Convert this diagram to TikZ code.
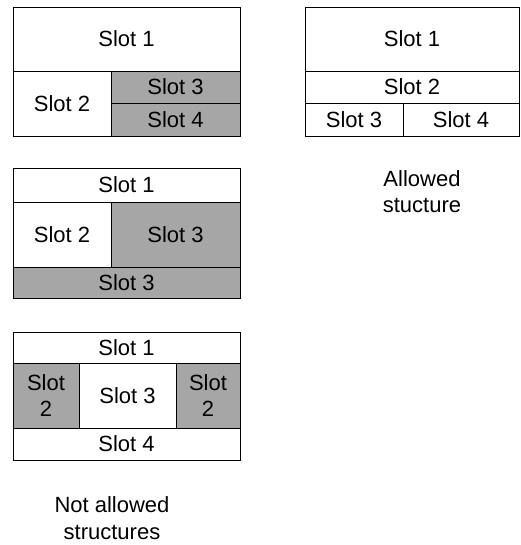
\documentclass[tikz,border=0pt]{standalone}
\usepackage{fontspec}
\setmainfont{Liberation Sans}
\definecolor{slotgray}{HTML}{A6A6A6}

\begin{document}
\begin{tikzpicture}[x=1pt, y=-1pt,
	slot/.style={draw, line width=0.8pt, inner sep=0pt, outer sep=0pt, align=center,
		font=\fontsize{22}{26.5}\selectfont},
	taken/.style={slot, fill=slotgray},
	caption/.style={align=center, font=\fontsize{22}{26.5}\selectfont}]
\useasboundingbox (0,0) rectangle (520,545);
\node (p-1) [slot, minimum width=227pt, minimum height=64pt] at (126.5,39) {Slot 1};
\node (p-2) [slot, minimum width=98pt, minimum height=65pt] at (62,103.5) {Slot 2};
\node (p-3) [taken, minimum width=129pt, minimum height=32pt] at (175.5,87) {Slot 3};
\node (p-4) [taken, minimum width=129pt, minimum height=33pt] at (175.5,119.5) {Slot 4};

\node (a-1) [slot, minimum width=214pt, minimum height=64pt] at (412,39) {Slot 1};
\node (a-2) [slot, minimum width=214pt, minimum height=32pt] at (412,87) {Slot 2};
\node (a-3) [slot, minimum width=98pt, minimum height=33pt] at (354,119.5) {Slot 3};
\node (a-4) [slot, minimum width=116pt, minimum height=33pt] at (461,119.5) {Slot 4};
\node (ok) [caption] at (422,191.5) {Allowed\\stucture};

\node (q-1) [slot, minimum width=227pt, minimum height=34pt] at (126.5,185) {Slot 1};
\node (q-2) [slot, minimum width=98pt, minimum height=65pt] at (62,234.5) {Slot 2};
\node (q-3) [taken, minimum width=129pt, minimum height=65pt] at (175.5,234.5) {Slot 3};
\node (q-4) [taken, minimum width=227pt, minimum height=31pt] at (126.5,282.5) {Slot 3};

\node (r-1) [slot, minimum width=227pt, minimum height=31pt] at (126.5,347.5) {Slot 1};
\node (r-2) [taken, minimum width=66pt, minimum height=65pt] at (46,395.5) {Slot\\2};
\node (r-3) [slot, minimum width=97pt, minimum height=65pt] at (127.5,395.5) {Slot 3};
\node (r-4) [taken, minimum width=64pt, minimum height=65pt] at (208,395.5) {Slot\\2};
\node (r-5) [slot, minimum width=227pt, minimum height=32pt] at (126.5,444) {Slot 4};
\node (notok) [caption] at (112,518) {Not allowed\\structures};
\end{tikzpicture}
\end{document}
